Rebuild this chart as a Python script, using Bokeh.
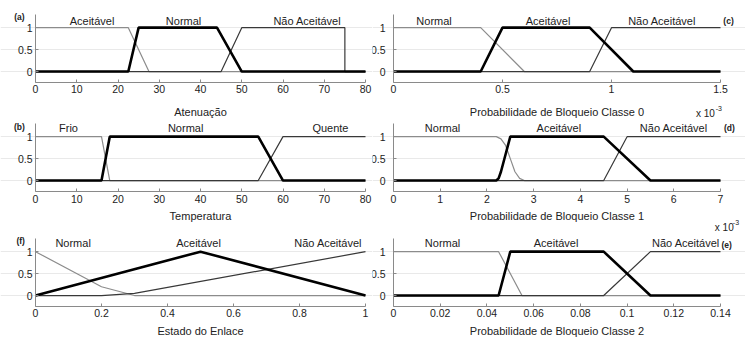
from bokeh.plotting import figure
from bokeh.layouts import gridplot
from bokeh.models import Range1d, FixedTicker, CustomJSTickFormatter, Label
from bokeh.embed import file_html
from bokeh.resources import INLINE

FONT = "Liberation Sans"

# ---------------- data ----------------
# (a) Atenuação
A_TICKS = [0, 10, 20, 30, 40, 50, 60, 70, 80]
A_ACEITAVEL_X = [0, 22.5, 27.5, 80]
A_ACEITAVEL_Y = [1, 1, 0, 0]
A_NORMAL_X = [0, 22.5, 25, 44, 50, 80]
A_NORMAL_Y = [0, 0, 1, 1, 0, 0]
A_NAO_X = [0, 45, 50, 75, 75, 80]
A_NAO_Y = [0, 0, 1, 1, 0, 0]

# (b) Temperatura
B_TICKS = [0, 10, 20, 30, 40, 50, 60, 70, 80]
B_FRIO_X = [0, 16, 18, 80]
B_FRIO_Y = [1, 1, 0, 0]
B_NORMAL_X = [0, 16, 18, 54, 60, 80]
B_NORMAL_Y = [0, 0, 1, 1, 0, 0]
B_QUENTE_X = [0, 54, 60, 80]
B_QUENTE_Y = [0, 0, 1, 1]

# (c) Probabilidade de Bloqueio Classe 0 (x 10^-3)
C_TICKS = [0, 0.5, 1, 1.5]
C_NORMAL_X = [0, 0.4, 0.6, 1.5]
C_NORMAL_Y = [1, 1, 0, 0]
C_ACEITAVEL_X = [0, 0.4, 0.5, 0.9, 1.1, 1.5]
C_ACEITAVEL_Y = [0, 0, 1, 1, 0, 0]
C_NAO_X = [0, 0.9, 1.0, 1.5]
C_NAO_Y = [0, 0, 1, 1]

# (d) Probabilidade de Bloqueio Classe 1 (x 10^-3)
D_TICKS = [0, 1, 2, 3, 4, 5, 6, 7]
D_NORMAL_X = [0, 2.2, 2.3, 2.4, 2.5, 2.6, 2.7, 2.8, 7]
D_NORMAL_Y = [1, 1, 0.95, 0.8, 0.5, 0.2, 0.05, 0, 0]
D_ACEITAVEL_X = [0, 2.2, 2.25, 2.3, 2.4, 2.5, 4.5, 5.5, 7]
D_ACEITAVEL_Y = [0, 0, 0.05, 0.2, 0.6, 1, 1, 0, 0]
D_NAO_X = [0, 4.5, 5.0, 7]
D_NAO_Y = [0, 0, 1, 1]

# (f) Estado do Enlace
F_TICKS = [0, 0.2, 0.4, 0.6, 0.8, 1]
F_NORMAL_X = [0, 0.2, 0.3, 1]
F_NORMAL_Y = [1, 0.2, 0, 0]
F_ACEITAVEL_X = [0, 0.5, 1]
F_ACEITAVEL_Y = [0, 1, 0]
F_NAO_X = [0, 0.2, 0.3, 1]
F_NAO_Y = [0, 0, 0.05, 1]

# (e) Probabilidade de Bloqueio Classe 2
E_TICKS = [0, 0.02, 0.04, 0.06, 0.08, 0.1, 0.12, 0.14]
E_NORMAL_X = [0, 0.045, 0.055, 0.14]
E_NORMAL_Y = [1, 1, 0, 0]
E_ACEITAVEL_X = [0, 0.045, 0.05, 0.09, 0.11, 0.14]
E_ACEITAVEL_Y = [0, 0, 1, 1, 0, 0]
E_NAO_X = [0, 0.09, 0.11, 0.14]
E_NAO_Y = [0, 0, 1, 1]

Y_TICKS = [0, 0.5, 1]
Y_LO, Y_HI = -0.25, 1.3

# ---------------- styling ----------------
STYLES = [("#8c8c8c", 1.2), ("#000000", 2.6), ("#383838", 1.2)]
AXIS_COLOR = "#8a8a8a"
TEXT_COLOR = "#222222"

# column geometry: figure width, pixel of x=0, pixel of x=max (local)
COLS = {True: (372, 35, 365), False: (373, 21, 348)}
# row geometry: figure height, pixel of y=Y_HI, pixel of y=Y_LO, tick standoff, title standoff
ROWS = {1: (118, 14, 82, 2, 10), 2: (115, 5, 73, 3, 4), 3: (107, 5, 73, 2, 5)}


def panel(xmax, ticks, curves, names, name_x, name_y, xlabel, tag, tag_x, tag_y,
          left, row, mult=None):
    W, px0, px1 = COLS[left]
    H, py_hi, py_lo, tick_sd, title_sd = ROWS[row]
    kx = (px1 - px0) / xmax
    ky = (py_lo - py_hi) / (Y_HI - Y_LO)
    xr = Range1d(-px0 / kx, xmax + (W - px1) / kx)
    yr = Range1d(Y_LO - (H - py_lo) / ky, Y_HI + py_hi / ky)
    p = figure(width=W, height=H, x_range=xr, y_range=yr,
               min_border=0, min_border_left=0, min_border_right=0,
               min_border_top=0, min_border_bottom=0,
               output_backend="svg", toolbar_location=None, tools="")
    p.outline_line_color = None
    p.background_fill_color = "white"
    p.border_fill_color = "white"
    p.xgrid.visible = False
    p.ygrid.grid_line_color = "#e9e9e9"
    p.ygrid.bounds = (0, xmax)
    p.xaxis.ticker = FixedTicker(ticks=ticks)
    p.yaxis.ticker = FixedTicker(ticks=Y_TICKS)
    fmt = "return String(tick);"
    p.xaxis.formatter = CustomJSTickFormatter(code=fmt)
    p.yaxis.formatter = CustomJSTickFormatter(code=fmt)
    p.xaxis.fixed_location = Y_LO
    p.yaxis.fixed_location = 0
    p.xaxis.bounds = (0, xmax)
    p.yaxis.bounds = (Y_LO, Y_HI)
    for ax in (p.xaxis[0], p.yaxis[0]):
        ax.axis_line_color = AXIS_COLOR
        ax.major_tick_line_color = AXIS_COLOR
        ax.minor_tick_line_color = None
        ax.major_tick_in = 3
        ax.major_tick_out = 0
        ax.major_label_text_font = FONT
        ax.major_label_text_font_size = "10.5px"
        ax.major_label_text_color = TEXT_COLOR
        ax.axis_label_text_font = FONT
        ax.axis_label_text_font_size = "11px"
        ax.axis_label_text_font_style = "normal"
        ax.axis_label_text_color = TEXT_COLOR
    p.xaxis.major_label_standoff = tick_sd
    p.xaxis.axis_label_standoff = title_sd
    p.xaxis.axis_label = xlabel
    p.yaxis.major_label_standoff = 3 if left else 8

    for i in [0, 2, 1]:
        xs, ys = curves[i]
        color, w = STYLES[i]
        p.line(xs, ys, line_color=color, line_width=w)

    for nm, nx in zip(names, name_x):
        p.add_layout(Label(x=nx, y=name_y, text=nm, text_align="center",
                           text_baseline="middle", text_font=FONT,
                           text_font_size="11px", text_color=TEXT_COLOR))
    p.add_layout(Label(x=tag_x, y=tag_y, text=tag, text_align="center",
                       text_baseline="middle", text_font=FONT,
                       text_font_size="8.5px", text_font_style="bold",
                       text_color=TEXT_COLOR))
    if mult is not None:
        mx, my, sx, sy = mult
        p.add_layout(Label(x=mx, y=my, text="x 10", text_align="center",
                           text_baseline="middle", text_font=FONT,
                           text_font_size="10px", text_color=TEXT_COLOR))
        p.add_layout(Label(x=sx, y=sy, text="-3", text_align="center",
                           text_baseline="middle", text_font=FONT,
                           text_font_size="7px", text_color=TEXT_COLOR))
    return p


NAMES3 = ["Normal", "Aceitável", "Não Aceitável"]

pa = panel(80, A_TICKS,
           [(A_ACEITAVEL_X, A_ACEITAVEL_Y), (A_NORMAL_X, A_NORMAL_Y), (A_NAO_X, A_NAO_Y)],
           ["Aceitável", "Normal", "Não Aceitável"], [13.7, 35.9, 65.9], 1.15,
           "Atenuação", "(a)", -3.9, 1.24, True, 1)

pc = panel(1.5, C_TICKS,
           [(C_NORMAL_X, C_NORMAL_Y), (C_ACEITAVEL_X, C_ACEITAVEL_Y), (C_NAO_X, C_NAO_Y)],
           NAMES3, [0.186, 0.709, 1.232], 1.15,
           "Probabilidade de Bloqueio Classe 0", "(c)", 1.537, 1.15, False, 1,
           mult=(1.431, -0.956, 1.492, -0.84))

pb = panel(80, B_TICKS,
           [(B_FRIO_X, B_FRIO_Y), (B_NORMAL_X, B_NORMAL_Y), (B_QUENTE_X, B_QUENTE_Y)],
           ["Frio", "Normal", "Quente"], [8.0, 36.4, 71.5], 1.19,
           "Temperatura", "(b)", -3.9, 1.22, True, 2)

pd_ = panel(7, D_TICKS,
            [(D_NORMAL_X, D_NORMAL_Y), (D_ACEITAVEL_X, D_ACEITAVEL_Y), (D_NAO_X, D_NAO_Y)],
            NAMES3, [1.05, 3.54, 6.0], 1.19,
            "Probabilidade de Bloqueio Classe 1", "(d)", 7.19, 1.19, False, 2,
            mult=(7.08, -1.07, 7.33, -0.96))

pf = panel(1, F_TICKS,
           [(F_NORMAL_X, F_NORMAL_Y), (F_ACEITAVEL_X, F_ACEITAVEL_Y), (F_NAO_X, F_NAO_Y)],
           NAMES3, [0.114, 0.494, 0.887], 1.2,
           "Estado do Enlace", "(f)", -0.045, 1.24, True, 3)

pe = panel(0.14, E_TICKS,
           [(E_NORMAL_X, E_NORMAL_Y), (E_ACEITAVEL_X, E_ACEITAVEL_Y), (E_NAO_X, E_NAO_Y)],
           NAMES3, [0.021, 0.0696, 0.1252], 1.2,
           "Probabilidade de Bloqueio Classe 2", "(e)", 0.1426, 1.16, False, 3)

grid = gridplot([[pa, pc], [pb, pd_], [pf, pe]], toolbar_location=None)

with open("out.html", "w") as f:
    f.write(file_html(grid, INLINE))
